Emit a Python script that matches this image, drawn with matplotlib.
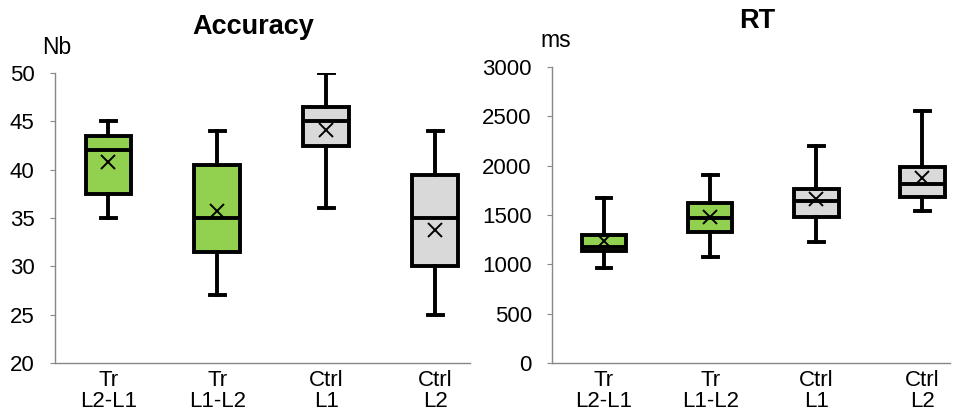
import matplotlib
matplotlib.use('Agg')
import matplotlib.pyplot as plt

plt.rcParams['font.family'] = ['Liberation Sans', 'DejaVu Sans']

groups = ['Tr\nL2-L1', 'Tr\nL1-L2', 'Ctrl\nL1', 'Ctrl\nL2']
box_colors = ['#92D050', '#92D050', '#D9D9D9', '#D9D9D9']

# Accuracy (Nb)
acc_whislo = [35, 27, 36, 25]
acc_q1 = [37.5, 31.5, 42.5, 30]
acc_med = [42, 35, 45, 35]
acc_q3 = [43.5, 40.5, 46.5, 39.5]
acc_whishi = [45, 44, 50, 44]
acc_mean = [40.8, 35.7, 44.1, 33.8]

# RT (ms)
rt_whislo = [965, 1078, 1230, 1543]
rt_q1 = [1139, 1331, 1483, 1685]
rt_med = [1180, 1466, 1641, 1810]
rt_q3 = [1297, 1618, 1759, 1988]
rt_whishi = [1668, 1904, 2197, 2551]
rt_mean = [1240, 1476, 1661, 1870]


def draw(ax, lo, q1, med, q3, hi, mean, title, unit, ylim, yticks, xlim, title_x):
    stats = [dict(whislo=lo[i], q1=q1[i], med=med[i], q3=q3[i], whishi=hi[i],
                  mean=mean[i], fliers=[]) for i in range(len(groups))]
    lw = 2.8
    bp = ax.bxp(stats, positions=range(len(groups)), widths=0.42,
                patch_artist=True, showmeans=True, showfliers=False,
                boxprops=dict(linewidth=lw, edgecolor='black'),
                medianprops=dict(color='black', linewidth=lw),
                whiskerprops=dict(color='black', linewidth=lw),
                capprops=dict(color='black', linewidth=lw),
                meanprops=dict(marker='x', markeredgecolor='black',
                               markersize=10, markeredgewidth=1.4),
                capwidths=0.14)
    for patch, c in zip(bp['boxes'], box_colors):
        patch.set_facecolor(c)
    ax.set_xlim(*xlim)
    ax.set_ylim(*ylim)
    ax.set_yticks(yticks)
    ax.set_xticks(range(len(groups)))
    ax.set_xticklabels(groups, fontsize=16, linespacing=1.0)
    ax.tick_params(axis='y', labelsize=16, length=3.6, color='#888888', pad=11)
    ax.tick_params(axis='x', length=0, pad=5)
    for s in ['top', 'right']:
        ax.spines[s].set_visible(False)
    for s in ['left', 'bottom']:
        ax.spines[s].set_color('#888888')
        ax.spines[s].set_linewidth(1.0)
    ax.set_title(title, fontsize=19.5, fontweight='bold', pad=28, x=title_x)
    ax.text(-0.03, 1.05, unit, transform=ax.transAxes, fontsize=16.5,
            ha='left', va='bottom')


fig = plt.figure(figsize=(9.6, 4.16), dpi=100)
ax1 = fig.add_axes([0.0573, 0.1274, 0.4323, 0.6971])
ax2 = fig.add_axes([0.575, 0.1266, 0.4146, 0.7131])

draw(ax1, acc_whislo, acc_q1, acc_med, acc_q3, acc_whishi, acc_mean,
     'Accuracy', 'Nb', (20, 50), range(20, 51, 5), (-0.49, 3.32), 0.477)
draw(ax2, rt_whislo, rt_q1, rt_med, rt_q3, rt_whishi, rt_mean,
     'RT', 'ms', (0, 3000), range(0, 3001, 500), (-0.49, 3.26), 0.515)

fig.savefig('out.png', dpi=100)
